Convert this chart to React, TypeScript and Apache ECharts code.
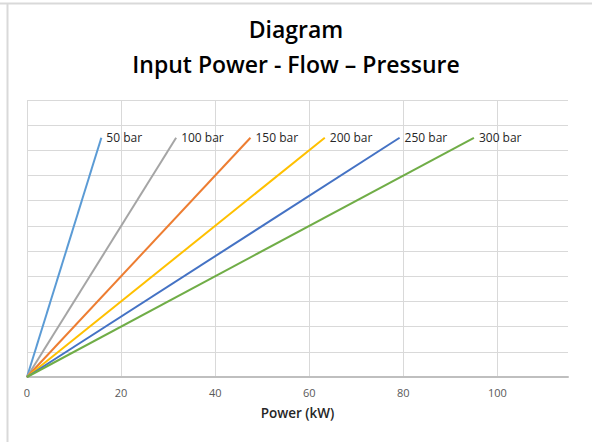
import React, { useEffect, useRef } from "react";
import * as echarts from "echarts";

const seriesNames = ["50 bar", "100 bar", "150 bar", "200 bar", "250 bar", "300 bar"];
const endPower = [15.8, 31.7, 47.5, 63.3, 79.2, 95.0];
const endFlow = [190, 190, 190, 190, 190, 190];
const startPower = [0, 0, 0, 0, 0, 0];
const startFlow = [0, 0, 0, 0, 0, 0];
const colors = ["#5B9BD5", "#A5A5A5", "#ED7D31", "#FFC000", "#4472C4", "#70AD47"];
const xTicks = [0, 20, 40, 60, 80, 100];

export default function App() {
  const ref = useRef<HTMLDivElement>(null);
  useEffect(() => {
    if (!ref.current) return;
    const chart = echarts.init(ref.current, undefined, { renderer: "svg" });
    const font = "'Open Sans', 'Noto Sans', sans-serif";
    chart.setOption({
      animation: false,
      textStyle: { fontFamily: font },
      title: {
        text: "Diagram\nInput Power - Flow \u2013 Pressure",
        left: "center",
        top: 6,
        textStyle: {
          fontFamily: font,
          fontSize: 23,
          fontWeight: 600,
          color: "#000",
          lineHeight: 35,
        },
      },
      grid: { left: 27, right: 24, top: 100, bottom: 65 },
      xAxis: {
        type: "value",
        min: 0,
        max: 115,
        interval: 20,
        name: "Power (kW)",
        nameLocation: "middle",
        nameGap: 29,
        nameTextStyle: { fontFamily: font, fontSize: 13.5, fontWeight: 600, color: "#262626" },
        axisLine: { show: true, lineStyle: { color: "#BFBFBF", width: 2 } },
        axisTick: { show: false, customValues: xTicks },
        axisLabel: {
          customValues: xTicks,
          color: "#595959",
          fontSize: 11,
          margin: 10,
          fontFamily: font,
        },
        splitLine: { show: true, lineStyle: { color: "#D9D9D9", width: 1 } },
      },
      yAxis: {
        type: "value",
        min: 0,
        max: 220,
        interval: 20,
        axisLine: { show: false },
        axisTick: { show: false },
        axisLabel: { show: false },
        splitLine: { show: true, lineStyle: { color: "#D9D9D9", width: 1 } },
      },
      series: seriesNames.map((name, i) => ({
        name,
        type: "line",
        symbol: "none",
        data: [
          [startPower[i], startFlow[i]],
          [endPower[i], endFlow[i]],
        ],
        lineStyle: { color: colors[i], width: 2 },
        itemStyle: { color: colors[i] },
        endLabel: {
          show: true,
          formatter: "{a}",
          distance: 5,
          color: "#262626",
          fontSize: 12,
          fontFamily: font,
        },
      })),
      graphic: [
        { type: "line", shape: { x1: 0, y1: 3.5, x2: 592, y2: 3.5 }, style: { stroke: "#D9D9D9", lineWidth: 2 } },
        { type: "line", shape: { x1: 7.5, y1: 3, x2: 7.5, y2: 442 }, style: { stroke: "#D9D9D9", lineWidth: 2 } },
      ],
    });
    return () => chart.dispose();
  }, []);
  return (
    <div
      ref={ref}
      style={{ position: "fixed", left: 0, top: 0, width: 592, height: 442, background: "#fff" }}
    />
  );
}
